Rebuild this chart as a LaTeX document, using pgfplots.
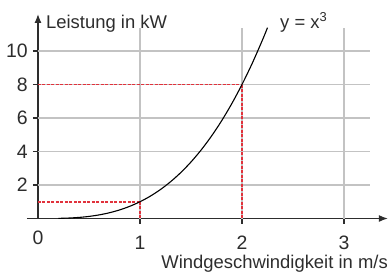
\documentclass[border=0pt]{standalone}
\usepackage{fontspec}
\setmainfont{Liberation Sans}
\usepackage{pgfplots}
\pgfplotsset{compat=1.18}
\usetikzlibrary{arrows.meta}
\definecolor{axgray}{RGB}{45,45,45}
\definecolor{gridgray}{RGB}{195,195,195}
\definecolor{dred}{RGB}{225,50,60}
\begin{document}
\begin{tikzpicture}
\begin{axis}[
  x=102bp, y=16.75bp,
  axis lines=middle,
  xmin=-0.11, xmax=3.43, ymin=0, ymax=12.21,
  xtick={1,2,3}, ytick={2,4,6,8,10},
  hide obscured x ticks=false, hide obscured y ticks=false,
  axis line style={axgray, line width=1.3bp, -{Latex[length=9bp,width=7bp]}},
  tick style={axgray, line width=1.1bp},
  major tick length=10bp, tick align=center,
  /pgf/number format/assume math mode=true,
  ticklabel style={font=\fontsize{19.5}{21}\selectfont, text=axgray},
  xticklabel style={anchor=north, inner sep=0pt, yshift=-12bp},
  yticklabel style={anchor=east, inner sep=0pt, xshift=-5bp},
  clip=false,
]
% grid
\addplot[gridgray, line width=1.1bp] coordinates {(1,0) (1,11.37)};
\addplot[gridgray, line width=1.1bp] coordinates {(2,0) (2,11.37)};
\addplot[gridgray, line width=1.1bp] coordinates {(3,0) (3,11.37)};
\addplot[gridgray, line width=1.1bp] coordinates {(0,2) (3.255,2)};
\addplot[gridgray, line width=1.1bp] coordinates {(0,4) (3.255,4)};
\addplot[gridgray, line width=1.1bp] coordinates {(0,6) (3.255,6)};
\addplot[gridgray, line width=1.1bp] coordinates {(0,8) (3.255,8)};
\addplot[gridgray, line width=1.1bp] coordinates {(0,10) (3.255,10)};
% red dashed helper lines
\addplot[draw=dred, line width=1.8bp, dash pattern=on 3bp off 1.5bp] coordinates {(0,1) (1,1)};
\addplot[draw=dred, line width=1.6bp, dash pattern=on 3bp off 1.5bp] coordinates {(1,1) (1,0)};
\addplot[draw=dred, line width=1.8bp, dash pattern=on 3bp off 1.5bp] coordinates {(0,8) (2,8)};
\addplot[draw=dred, line width=1.6bp, dash pattern=on 3bp off 1.5bp] coordinates {(2,8) (2,0)};
% curve y = x^3
\addplot[black, line width=1.1bp, smooth] coordinates {
 (0.2,0.008) (0.3,0.027) (0.4,0.064) (0.5,0.125) (0.6,0.216) (0.7,0.343)
 (0.8,0.512) (0.9,0.729) (1.0,1.0) (1.1,1.331) (1.2,1.728) (1.3,2.197)
 (1.4,2.744) (1.5,3.375) (1.6,4.096) (1.7,4.913) (1.8,5.832) (1.9,6.859)
 (2.0,8.0) (2.1,9.261) (2.2,10.648) (2.25,11.391)};
% labels
\node[anchor=north, inner sep=0pt, yshift=-12bp, font=\fontsize{19.5}{21}\selectfont, text=axgray] at (axis cs:0,0) {0};
\node[anchor=base west, inner sep=0pt, font=\fontsize{18.5}{20}\selectfont, text=axgray] at (axis cs:0.078,11.37) {Leistung in kW};
\node[anchor=base west, inner sep=0pt, font=\fontsize{18.5}{20}\selectfont, text=axgray] at (axis cs:2.373,11.37) {y = x\textsuperscript{3}};
\node[anchor=base east, inner sep=0pt, font=\fontsize{18.5}{20}\selectfont, text=axgray] at (axis cs:3.431,-2.955) {Windgeschwindigkeit in m/s};
\coordinate (bl) at (axis cs:-0.3725,-3.4925);
\coordinate (tr) at (axis cs:3.4706,13.045);
\end{axis}
\pgfresetboundingbox
\useasboundingbox (bl) rectangle (tr);
\end{tikzpicture}
\end{document}
